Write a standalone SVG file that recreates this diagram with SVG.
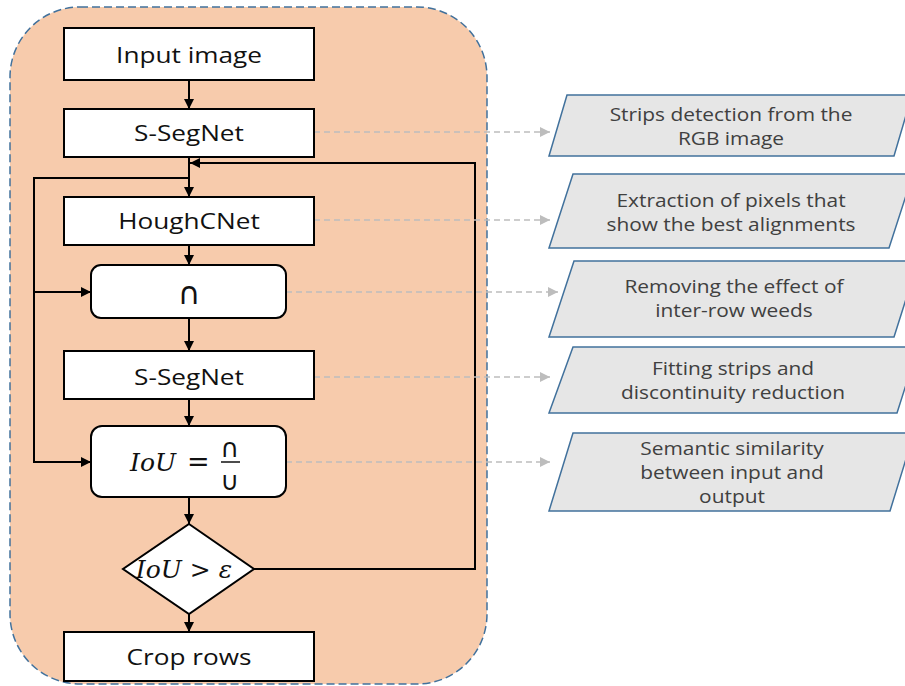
<svg xmlns="http://www.w3.org/2000/svg" width="905" height="686" viewBox="0 0 905 686">
  <defs>
    <marker id="arrow" viewBox="0 0 10 10" refX="10" refY="5" markerWidth="10" markerHeight="10" markerUnits="userSpaceOnUse" orient="auto">
      <path d="M0,0 L10,5 L0,10 z" fill="#000"/>
    </marker>
    <marker id="arrowGrey" viewBox="0 0 10 10" refX="10" refY="5" markerWidth="10" markerHeight="10" markerUnits="userSpaceOnUse" orient="auto">
      <path d="M0,0 L10,5 L0,10 z" fill="#bdbdbd"/>
    </marker>
    <style>
      .box { fill: #fff; stroke: #000; stroke-width: 2; }
      .label { font-family: "Open Sans", "Liberation Sans", sans-serif; font-size: 22px; fill: #111; text-anchor: middle; }
      .math { font-family: "DejaVu Serif", "Liberation Serif", serif; font-style: italic; fill: #111; }
      .sym { font-family: "DejaVu Sans", sans-serif; fill: #111; text-anchor: middle; }
      .note { fill: #e6e6e6; stroke: #41719c; stroke-width: 1.5; }
      .noteText { font-family: "Open Sans", "Liberation Sans", sans-serif; font-size: 18px; fill: #404040; text-anchor: middle; }
      .flow { fill: none; stroke: #000; stroke-width: 2; }
      .link { fill: none; stroke: #bdbdbd; stroke-width: 1.3; stroke-dasharray: 6 4; }
    </style>
  </defs>

  <!-- container -->
  <rect x="10" y="7" width="477" height="677" rx="70" ry="70" fill="#f7cbac" stroke="#41719c" stroke-width="1.5" stroke-dasharray="8 4"/>

  <!-- connectors -->
  <g id="connectors">
    <line class="flow" x1="189" y1="80" x2="189" y2="109" marker-end="url(#arrow)"/>
    <line class="flow" x1="189" y1="157" x2="189" y2="197" marker-end="url(#arrow)"/>
    <line class="flow" x1="189" y1="245" x2="189" y2="265" marker-end="url(#arrow)"/>
    <line class="flow" x1="189" y1="318" x2="189" y2="351" marker-end="url(#arrow)"/>
    <line class="flow" x1="189" y1="399" x2="189" y2="426" marker-end="url(#arrow)"/>
    <line class="flow" x1="189" y1="497" x2="189" y2="524" marker-end="url(#arrow)"/>
    <line class="flow" x1="189" y1="614" x2="189" y2="632" marker-end="url(#arrow)"/>
    <path class="flow" d="M189,178 H34 V462 H91" marker-end="url(#arrow)"/>
    <path class="flow" d="M34,292 H91" marker-end="url(#arrow)"/>
    <path class="flow" d="M254,569 H475 V163 H190" stroke-width="1.8" marker-end="url(#arrow)"/>

    <line class="link" x1="314" y1="132" x2="550" y2="132" marker-end="url(#arrowGrey)"/>
    <line class="link" x1="314" y1="220" x2="550" y2="220" marker-end="url(#arrowGrey)"/>
    <line class="link" x1="286" y1="292" x2="558" y2="292" marker-end="url(#arrowGrey)"/>
    <line class="link" x1="314" y1="377" x2="550" y2="377" marker-end="url(#arrowGrey)"/>
    <line class="link" x1="286" y1="462" x2="550" y2="462" marker-end="url(#arrowGrey)"/>
  </g>

  <!-- flow nodes -->
  <g id="input-image">
    <rect class="box" x="64" y="28" width="250" height="52"/>
    <text class="label" transform="translate(189,63) scale(1.19,1)">Input image</text>
  </g>
  <g id="s-segnet-1">
    <rect class="box" x="64" y="109" width="250" height="48"/>
    <text class="label" transform="translate(189,141) scale(1.19,1)">S-SegNet</text>
  </g>
  <g id="houghcnet">
    <rect class="box" x="64" y="197" width="250" height="48"/>
    <text class="label" transform="translate(189,229) scale(1.19,1)">HoughCNet</text>
  </g>
  <g id="intersection">
    <rect class="box" x="91" y="265" width="195" height="53" rx="10" ry="10"/>
    <text class="sym" x="189" y="304" font-size="31">∩</text>
  </g>
  <g id="s-segnet-2">
    <rect class="box" x="64" y="351" width="250" height="48"/>
    <text class="label" transform="translate(189,385) scale(1.19,1)">S-SegNet</text>
  </g>
  <g id="iou">
    <rect class="box" x="91" y="426" width="195" height="71" rx="11" ry="11"/>
    <text class="math" x="130" y="471" font-size="25">IoU</text>
    <text class="math" x="187" y="471" font-size="27" font-style="normal">=</text>
    <text class="sym" x="230" y="457" font-size="26">∩</text>
    <line x1="221" y1="462" x2="240" y2="462" stroke="#111" stroke-width="1.5"/>
    <text class="sym" x="230" y="490" font-size="26">∪</text>
  </g>
  <g id="threshold">
    <polygon class="box" points="189,524 254,569 189,614 123,569"/>
    <text class="math" x="184" y="578" font-size="25" text-anchor="middle">IoU &gt; ε</text>
  </g>
  <g id="crop-rows">
    <rect class="box" x="64" y="632" width="250" height="49"/>
    <text class="label" transform="translate(189,665) scale(1.19,1)">Crop rows</text>
  </g>

  <!-- annotations -->
  <g id="note-1">
    <polygon class="note" points="567,95 912,95 894,156 549,156"/>
    <text class="noteText" transform="translate(731,121) scale(1.16,1)">Strips detection from the</text>
    <text class="noteText" transform="translate(731,145) scale(1.16,1)">RGB image</text>
  </g>
  <g id="note-2">
    <polygon class="note" points="573,174 913,174 889,248 549,248"/>
    <text class="noteText" transform="translate(731,207) scale(1.16,1)">Extraction of pixels that</text>
    <text class="noteText" transform="translate(731,231) scale(1.16,1)">show the best alignments</text>
  </g>
  <g id="note-3">
    <polygon class="note" points="574,261 918,261 894,337 549,337"/>
    <text class="noteText" transform="translate(734,293) scale(1.16,1)">Removing the effect of</text>
    <text class="noteText" transform="translate(734,317) scale(1.16,1)">inter-row weeds</text>
  </g>
  <g id="note-4">
    <polygon class="note" points="573,347 918,347 897,413 549,413"/>
    <text class="noteText" transform="translate(733,375) scale(1.16,1)">Fitting strips and</text>
    <text class="noteText" transform="translate(733,399) scale(1.16,1)">discontinuity reduction</text>
  </g>
  <g id="note-5">
    <polygon class="note" points="573,433 914,433 890,511 549,511"/>
    <text class="noteText" transform="translate(732,455) scale(1.16,1)">Semantic similarity</text>
    <text class="noteText" transform="translate(732,479) scale(1.16,1)">between input and</text>
    <text class="noteText" transform="translate(732,503) scale(1.16,1)">output</text>
  </g>
</svg>
